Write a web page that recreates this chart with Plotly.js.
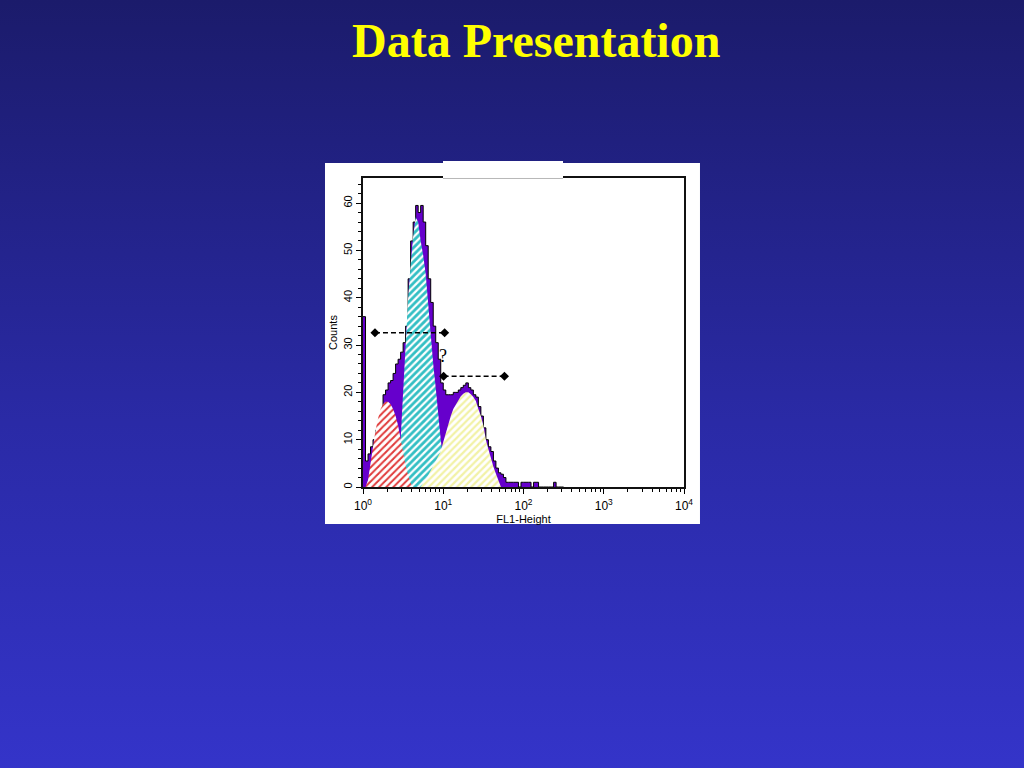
<!DOCTYPE html>
<html>
<head>
<meta charset="utf-8">
<script src="https://cdn.plot.ly/plotly-3.0.1.min.js"></script>
<style>
html,body{margin:0;padding:0;width:1024px;height:768px;overflow:hidden;
background:linear-gradient(to bottom,#1b1b6b 0%,#2a2aa6 55%,#3434c9 100%);}
#chart{width:1024px;height:768px;}
</style>
</head>
<body>
<div id="chart"></div>
<script>
// FL1-Height channel values (left edge of each histogram bin)
const fl1 = [1.000,1.075,1.155,1.241,1.334,1.433,1.540,1.655,1.778,1.911,2.054,2.207,2.371,2.548,2.738,2.943,3.162,3.398,3.652,3.924,4.217,4.532,4.870,5.233,5.623,6.043,6.494,6.978,7.499,8.058,8.660,9.306,10.00,10.75,11.55,12.41,13.34,14.33,15.40,16.55,17.78,19.11,20.54,22.07,23.71,25.48,27.38,29.43,31.62,33.98,36.52,39.24,42.17,45.32,48.70,52.33,56.23,60.43,64.94,69.78,74.99,80.58,86.60,93.06,100.0,107.5,115.5,124.1,133.4,143.3,154.0,165.5,177.8,191.1,205.4,220.7,237.1,254.8,273.8,294.3,316.2];
// Histogram counts per bin
const counts = [36,5.5,7,8.5,10,12,13.5,16,19.5,20.5,22,22.5,24,26,27,28.5,30.5,34,44,52,56,59.5,58,59.5,56,51,44,39,34,30.5,27,22,20.5,19.5,19.5,19.5,20,20,20.5,21,21.5,22,21,20.5,19.5,19,17,15,12.5,10,8.5,7.5,5.5,4,3,2.7,2,1,1,1,1,1,0,1,1,1,1,0,1,1,0,0,0,0,0,0,1,0,0,0,0];

// Fitted sub-populations
const redX = [1.075,1.155,1.241,1.334,1.433,1.540,1.655,1.778,1.911,2.054,2.207,2.371,2.548,2.738,2.943,3.162,3.398,3.652,3.924,4.217];
const redY = [0,1.5,5,9,12,14.5,16.5,17.5,18,18,17.5,16.5,15,13,10,7,4.5,2.5,0.8,0];

const cyanX = [2.738,2.943,3.162,3.398,3.652,3.924,4.217,4.532,4.870,5.233,5.623,6.043,6.494,6.978,7.499,8.058,8.660,9.306,10.00,10.75,11.55];
const cyanY = [0,10,22,32,40,47,53,57,56,52,49,45,38,31,26,21,15,10,6,3,0];

const yelX = [5.233,5.623,6.043,6.494,6.978,7.499,8.058,8.660,9.306,10.00,10.75,11.55,12.41,13.34,14.33,15.40,16.55,17.78,19.11,20.54,22.07,23.71,25.48,27.38,29.43,31.62,33.98,36.52,39.24,42.17,45.32,48.70,52.33];
const yelY = [0,0.8,1.5,2.5,3.5,4.5,5.5,6.5,7.5,9.5,11.5,13.5,15,16.5,17.5,18.5,19.2,19.7,20,20,19.6,19,18.2,16.5,15,13,10,8,6,4.3,2.8,1.5,0];

// Gate markers (dashed ranges)
const gate1X = [1.41, 10.4], gate1Y = [32.6, 32.6];
const gate2X = [10.1, 57.9], gate2Y = [23.4, 23.4];
const qMark = {x: 10.0, y: 27.6, text: '?'};

const xTickVals = [1, 10, 100, 1000, 10000];
const xTickText = ['10<sup>0</sup>','10<sup>1</sup>','10<sup>2</sup>','10<sup>3</sup>','10<sup>4</sup>'];
const yTickVals = [0, 10, 20, 30, 40, 50, 60];

const noLine = {color:'rgba(0,0,0,0)', width:0};
const traces = [
  {x: fl1, y: counts, type:'scatter', mode:'lines', line:{shape:'hv', color:'#000', width:1},
   fill:'tozeroy', fillcolor:'#6600cc', hoverinfo:'skip'},
  {x: cyanX, y: cyanY, type:'scatter', mode:'lines', line:noLine, fill:'tozeroy',
   fillpattern:{shape:'/', fgcolor:'#33bfc4', bgcolor:'#ffffff', size:5, solidity:0.55}},
  {x: redX, y: redY, type:'scatter', mode:'lines', line:noLine, fill:'tozeroy',
   fillpattern:{shape:'/', fgcolor:'#e03a3a', bgcolor:'#ffffff', size:5, solidity:0.4}},
  {x: yelX, y: yelY, type:'scatter', mode:'lines', line:noLine, fill:'tozeroy',
   fillpattern:{shape:'/', fgcolor:'#f2f2a6', bgcolor:'#ffffff', size:5, solidity:0.45}},
  {x: gate1X, y: gate1Y, type:'scatter', mode:'lines+markers',
   line:{color:'#000', width:1.3, dash:'5px,3px'}, marker:{symbol:'diamond', size:7, color:'#000'}},
  {x: gate2X, y: gate2Y, type:'scatter', mode:'lines+markers',
   line:{color:'#000', width:1.3, dash:'5px,3px'}, marker:{symbol:'diamond', size:7, color:'#000'}}
];

const fontSans = 'Liberation Sans, Arial, sans-serif';
const layout = {
  width:1024, height:768,
  margin:{l:363, r:340, t:178, b:281, pad:0},
  paper_bgcolor:'rgba(0,0,0,0)', plot_bgcolor:'#ffffff',
  showlegend:false,
  xaxis:{type:'log', range:[0,4], showline:true, linecolor:'#111', linewidth:2, mirror:true,
    ticks:'outside', ticklen:5, tickwidth:1, tickcolor:'#000',
    tickmode:'array', tickvals:xTickVals, ticktext:xTickText, ticklabelstandoff:2,
    minor:{ticks:'outside', ticklen:3, tickwidth:1, tickcolor:'#000', dtick:'D1'},
    showgrid:false, zeroline:false,
    tickfont:{family:fontSans, size:12, color:'#000'},
    title:{text:'FL1-Height', font:{family:fontSans, size:11, color:'#000'}, standoff:1}},
  yaxis:{range:[0,65.3], showline:true, linecolor:'#111', linewidth:2, mirror:true,
    ticks:'outside', ticklen:5, tickwidth:1, tickcolor:'#000',
    tickmode:'array', tickvals:yTickVals, tickangle:-90,
    minor:{ticks:'outside', ticklen:3, tickwidth:1, tickcolor:'#000', dtick:2},
    showgrid:false, zeroline:false,
    tickfont:{family:fontSans, size:11, color:'#000'},
    title:{text:'Counts', font:{family:fontSans, size:11, color:'#000'}, standoff:2}},
  shapes:[
    {type:'rect', xref:'paper', yref:'paper', x0:-0.1184, x1:1.0498, y0:-0.1197, y1:1.0485,
     fillcolor:'#ffffff', line:{width:0}, layer:'below'},
    {type:'rect', xref:'paper', yref:'paper', x0:0.2492, x1:0.6231, y0:0.9984, y1:1.055,
     fillcolor:'#ffffff', line:{width:0}, layer:'above'},
    {type:'line', xref:'paper', yref:'paper', x0:0.2492, x1:0.6231, y0:0.9984, y1:0.9984,
     line:{color:'#b8b8b8', width:1}, layer:'above'}
  ],
  annotations:[
    {text:qMark.text, x:Math.log10(qMark.x), y:qMark.y, xref:'x', yref:'y', showarrow:false,
     font:{family:'Liberation Serif, Times New Roman, serif', size:18, color:'#000'}},
    {text:'<b>Data Presentation</b>', xref:'paper', yref:'paper', x:0.539, y:1.4466,
     xanchor:'center', yanchor:'middle', showarrow:false,
     font:{family:'Liberation Serif, Times New Roman, serif', size:48, color:'#ffff00'}}
  ]
};
Plotly.newPlot('chart', traces, layout, {displayModeBar:false, staticPlot:true});
</script>
</body>
</html>
